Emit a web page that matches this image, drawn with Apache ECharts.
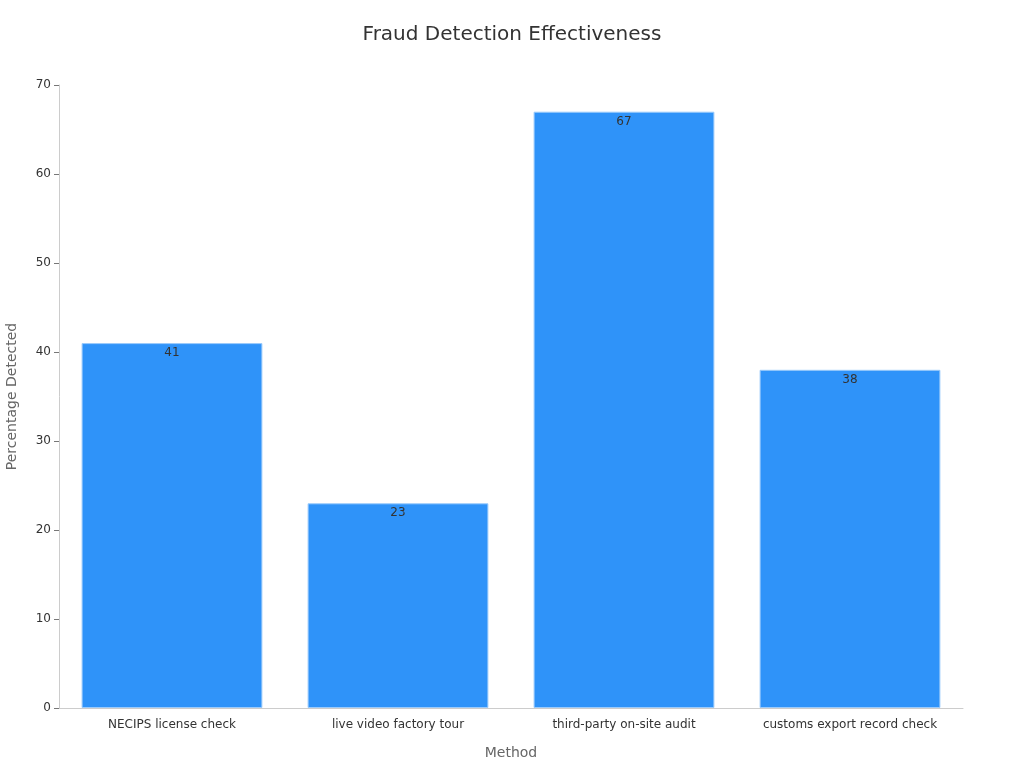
<!DOCTYPE html>
<html>
<head>
<meta charset="utf-8">
<title>Fraud Detection Effectiveness</title>
<script src="https://cdn.jsdelivr.net/npm/echarts@6/dist/echarts.min.js"></script>
<style>
  html, body { margin: 0; padding: 0; background: #fff; }
  #chart { width: 1024px; height: 768px; }
</style>
</head>
<body>
<div id="chart"></div>
<script>
// data
var methods = ['NECIPS license check', 'live video factory tour', 'third-party on-site audit', 'customs export record check'];
var detected = [41, 23, 67, 38];
var yTicks = { min: 0, max: 70, step: 10 };

var chart = echarts.init(document.getElementById('chart'));
var options = {
    backgroundColor: '#fff',
    textStyle: { fontFamily: 'DejaVu Sans' },
    title: {
        text: 'Fraud Detection Effectiveness',
        left: 'center',
        top: 20,
        textStyle: { fontSize: 20, fontWeight: 'normal', color: '#333' }
    },
    grid: { left: 59, right: 61, top: 85, bottom: 60, containLabel: false, outerBoundsMode: 'none' },
    xAxis: {
        type: 'category',
        data: methods,
        name: 'Method',
        nameLocation: 'middle',
        nameGap: 38,
        nameTextStyle: { fontSize: 14, color: '#666' },
        axisLine: { lineStyle: { color: '#ccc' } },
        axisTick: { alignWithLabel: true, lineStyle: { color: '#999' } },
        axisLabel: { color: '#333', fontSize: 12, interval: 0, margin: 11 }
    },
    yAxis: {
        type: 'value',
        min: yTicks.min,
        max: yTicks.max,
        interval: yTicks.step,
        name: 'Percentage Detected',
        nameLocation: 'middle',
        nameGap: 40,
        nameTextStyle: { fontSize: 14, color: '#666' },
        axisLine: { show: true, lineStyle: { color: '#ccc' } },
        axisTick: { show: true, length: 5, lineStyle: { color: '#777' } },
        axisLabel: { color: '#333', fontSize: 12 },
        splitLine: { show: false }
    },
    series: [
        {
            name: 'Percentage Detected',
            type: 'bar',
            data: detected,
            barWidth: '80%',
            itemStyle: {
                color: '#2F93F9',
                borderColor: '#9ccbfb',
                borderWidth: 1
            },
            label: {
                show: true,
                position: 'insideTop',
                distance: 4,
                color: '#333',
                fontSize: 12
            }
        }
    ]
};
chart.setOption(options);
</script>
</body>
</html>
